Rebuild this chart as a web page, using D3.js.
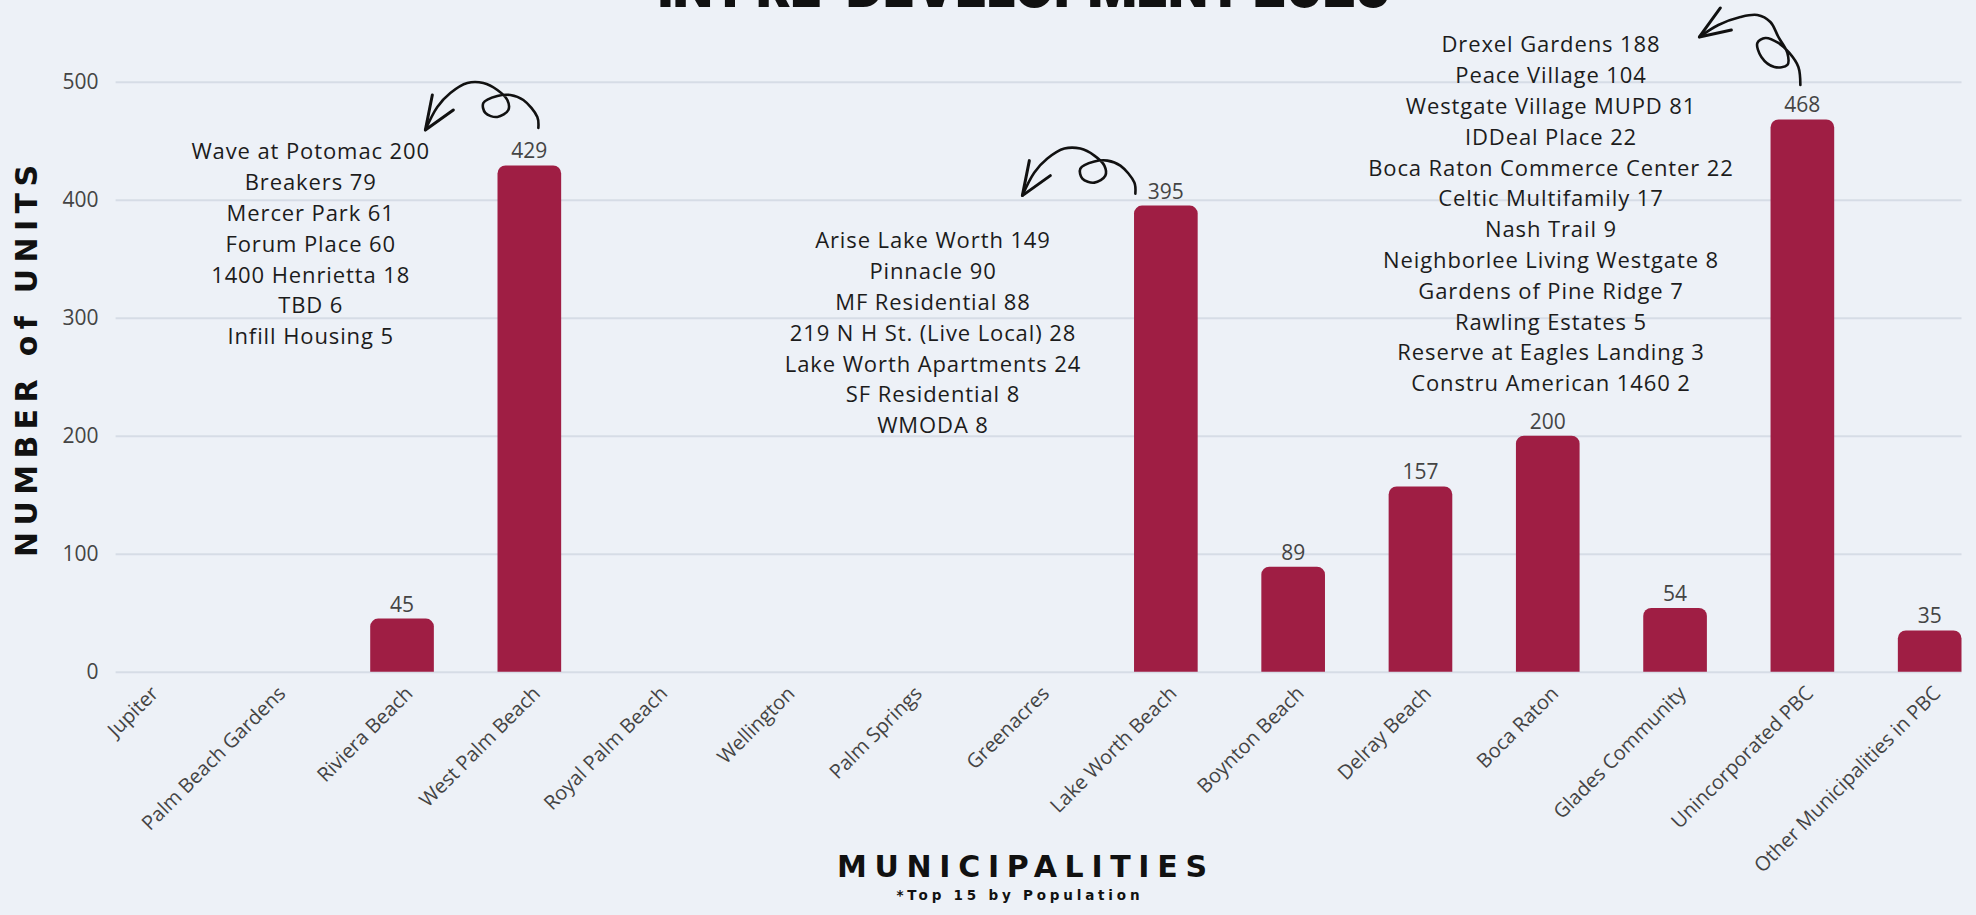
<!DOCTYPE html>
<html>
<head>
<meta charset="utf-8">
<script src="https://cdn.jsdelivr.net/npm/d3@7"></script>
<style>
html, body { margin:0; padding:0; background:#edf1f7; }
svg { display:block; }
</style>
</head>
<body>
<svg></svg>
<script>
// municipalities and their unit counts
var categories = ["Jupiter","Palm Beach Gardens","Riviera Beach","West Palm Beach","Royal Palm Beach",
  "Wellington","Palm Springs","Greenacres","Lake Worth Beach","Boynton Beach","Delray Beach",
  "Boca Raton","Glades Community","Unincorporated PBC","Other Municipalities in PBC"];
var units = [0,0,45,429,0,0,0,0,395,89,157,200,54,468,35];
var yTicks = [0,100,200,300,400,500];

// project breakdowns shown as notes
var wpbNames = ["Wave at Potomac","Breakers","Mercer Park","Forum Place","1400 Henrietta","TBD","Infill Housing"];
var wpbUnits = [200,79,61,60,18,6,5];
var lwbNames = ["Arise Lake Worth","Pinnacle","MF Residential","219 N H St. (Live Local)","Lake Worth Apartments","SF Residential","WMODA"];
var lwbUnits = [149,90,88,28,24,8,8];
var upbcNames = ["Drexel Gardens","Peace Village","Westgate Village MUPD","IDDeal Place","Boca Raton Commerce Center",
  "Celtic Multifamily","Nash Trail","Neighborlee Living Westgate","Gardens of Pine Ridge","Rawling Estates",
  "Reserve at Eagles Landing","Constru American 1460"];
var upbcUnits = [188,104,81,22,22,17,9,8,7,5,3,2];

var svgWidth = 1976, svgHeight = 915;
var plotLeft = 115.6, plotRight = 1961.5, plotTop = 81.7, plotBottom = 671.7;
var barColor = "#9f1e44";
var lineH = 30.8;

var svg = d3.select("svg")
  .attr("width", svgWidth)
  .attr("height", svgHeight)
  .style("background", "#edf1f7");

var x = d3.scaleBand().domain(categories).range([plotLeft, plotRight]).paddingInner(0.5).paddingOuter(0);
var y = d3.scaleLinear().domain([0, 500]).range([plotBottom, plotTop]);

// gridlines + y labels
var yAxis = svg.append("g")
  .attr("transform", "translate(" + plotLeft + ",0)")
  .call(d3.axisLeft(y).tickValues(yTicks).tickSize(-(plotRight - plotLeft)).tickPadding(17));
yAxis.select(".domain").remove();
yAxis.selectAll("line").attr("stroke", "#d6dce6").attr("stroke-width", 2);
yAxis.selectAll("text")
  .attr("fill", "#444")
  .style("font-family", "'Open Sans', sans-serif")
  .style("font-size", "21px");

// x labels
var xAxis = svg.append("g")
  .attr("transform", "translate(0," + plotBottom + ")")
  .call(d3.axisBottom(x).tickSize(0).tickPadding(0));
xAxis.select(".domain").remove();
xAxis.selectAll("text")
  .attr("x", 0).attr("y", 0).attr("dy", null)
  .attr("text-anchor", "end")
  .attr("transform", "translate(12,23) rotate(-45)")
  .attr("fill", "#444")
  .style("font-family", "'Open Sans', sans-serif")
  .style("font-size", "20px");

function barPath(bx, by, w, h, r) {
  r = Math.min(r, h, w / 2);
  return "M" + bx + "," + (by + h) +
    "V" + (by + r) +
    "A" + r + "," + r + " 0 0 1 " + (bx + r) + "," + by +
    "H" + (bx + w - r) +
    "A" + r + "," + r + " 0 0 1 " + (bx + w) + "," + (by + r) +
    "V" + (by + h) + "Z";
}

var data = categories.map(function(c, i) { return {name: c, value: units[i]}; })
  .filter(function(d) { return d.value > 0; });

svg.selectAll("path.bar")
  .data(data)
  .enter()
  .append("path")
  .attr("class", "bar")
  .attr("fill", barColor)
  .attr("d", function(d) {
    return barPath(x(d.name), y(d.value), x.bandwidth(), plotBottom - y(d.value), 8);
  });

svg.selectAll("text.val")
  .data(data)
  .enter()
  .append("text")
  .attr("class", "val")
  .attr("x", function(d) { return x(d.name) + x.bandwidth() / 2; })
  .attr("y", function(d) { return y(d.value) - 7; })
  .attr("text-anchor", "middle")
  .attr("fill", "#444")
  .style("font-family", "'Open Sans', sans-serif")
  .style("font-size", "21px")
  .text(function(d) { return d.value; });

// note blocks
function noteBlock(names, vals, cx, firstBase) {
  svg.append("g").selectAll("text")
    .data(names)
    .enter()
    .append("text")
    .attr("x", cx)
    .attr("y", function(d, i) { return firstBase + i * lineH; })
    .attr("text-anchor", "middle")
    .attr("fill", "#1c1c1c")
    .style("font-family", "'Open Sans', sans-serif")
    .style("font-size", "22px")
    .style("letter-spacing", "0.9px")
    .text(function(d, i) { return d + " " + vals[i]; });
}
noteBlock(wpbNames, wpbUnits, 310.7, 159.3);
noteBlock(lwbNames, lwbUnits, 933, 248.3);
noteBlock(upbcNames, upbcUnits, 1551, 52.3);

// hand drawn arrows
var curly = [[0,0],[-1,-11],[-15,-28],[-28,-33],[-41,-32],[-55,-25],[-53,-15],[-41,-11],[-30,-18],
  [-31,-28],[-41,-38],[-55,-45],[-71,-45],[-88,-35],[-101,-21],[-113,2]];
var curlyHead = [[-106,-33],[-113,2],[-85,-18]];
var curly2 = [[0,0],[-2,-18],[-11,-32],[-22,-42],[-35,-47],[-43,-42],[-39,-28],[-26,-18],[-13,-20],
  [-13,-32],[-22,-48],[-30,-63],[-43,-70],[-60,-68],[-82,-60],[-101,-48]];
var curly2Head = [[-80,-77],[-101,-48],[-69,-55]];

var line = d3.line().curve(d3.curveCatmullRom.alpha(0.5));
var arrows = [
  {cat: "West Palm Beach", dx: 9, dy: -37.5, pts: curly, head: curlyHead},
  {cat: "Lake Worth Beach", dx: -30.5, dy: -12, pts: curly, head: curlyHead},
  {cat: "Unincorporated PBC", dx: -2, dy: -34.5, pts: curly2, head: curly2Head}
];
arrows.forEach(function(a) {
  var v = units[categories.indexOf(a.cat)];
  var ox = x(a.cat) + x.bandwidth() / 2 + a.dx, oy = y(v) + a.dy;
  var g = svg.append("g").attr("transform", "translate(" + ox + "," + oy + ")")
    .attr("fill", "none").attr("stroke", "#111").attr("stroke-linecap", "round").attr("stroke-linejoin", "round");
  g.append("path").attr("d", line(a.pts)).attr("stroke-width", 2.6);
  g.append("path").attr("d", d3.line()(a.head)).attr("stroke-width", 3);
});

// titles
svg.append("text")
  .attr("x", 1024).attr("y", 7)
  .attr("text-anchor", "middle")
  .attr("textLength", 732).attr("lengthAdjust", "spacingAndGlyphs")
  .style("font-family", "Inter, Roboto, sans-serif")
  .style("font-weight", 900)
  .style("font-size", "54px")
  .attr("fill", "#111")
  .text("IN PRE-DEVELOPMENT 2025");

svg.append("text")
  .attr("transform", "translate(37,361) rotate(-90)")
  .attr("text-anchor", "middle")
  .attr("textLength", 392).attr("lengthAdjust", "spacing")
  .style("font-family", "'DejaVu Sans', sans-serif")
  .style("font-weight", "bold")
  .style("font-size", "30px")
  .attr("fill", "#111")
  .text("NUMBER of UNITS");

svg.append("text")
  .attr("x", 1022).attr("y", 877)
  .attr("text-anchor", "middle")
  .attr("textLength", 370).attr("lengthAdjust", "spacing")
  .style("font-family", "'DejaVu Sans', sans-serif")
  .style("font-weight", "bold")
  .style("font-size", "30px")
  .attr("fill", "#111")
  .text("MUNICIPALITIES");

svg.append("text")
  .attr("x", 1018).attr("y", 900)
  .attr("text-anchor", "middle")
  .attr("textLength", 243).attr("lengthAdjust", "spacing")
  .style("font-family", "'DejaVu Sans', sans-serif")
  .style("font-weight", "bold")
  .style("font-size", "13.5px")
  .attr("fill", "#111")
  .text("*Top 15 by Population");
</script>
</body>
</html>
